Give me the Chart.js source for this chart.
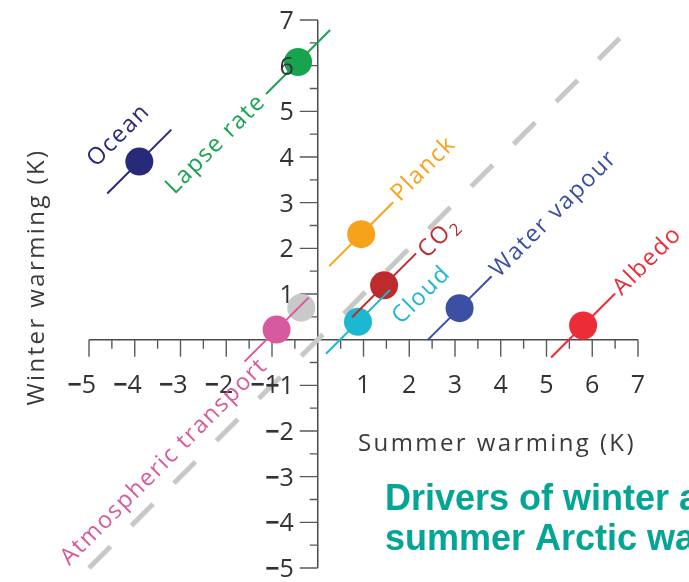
<!DOCTYPE html>
<html>
<head>
<meta charset="utf-8">
<script src="https://cdn.jsdelivr.net/npm/chart.js@4/dist/chart.umd.min.js"></script>
<style>
  html, body { margin: 0; padding: 0; background: #ffffff; }
  canvas { display: block; }
</style>
</head>
<body>
<canvas id="chart" width="689" height="582"></canvas>
<script>
// Contribution of each driver to summer and winter Arctic warming (K)
const drivers = ['Ocean', 'Lapse rate', 'Planck', 'CO₂', 'Cloud', 'Water vapour', 'Albedo', 'Atmospheric transport'];
const summerWarming = [-3.90, -0.43, 0.95, 1.45, 0.88, 3.10, 5.80, -0.90];
const winterWarming = [3.90, 6.08, 2.31, 1.19, 0.39, 0.69, 0.31, 0.22];
const driverColors = ['#272a78', '#17a44f', '#f7a21b', '#be2b2f', '#1cb8d2', '#3b50a3', '#ec2d38', '#d75aa1'];

// Unlabelled grey point behind the transport marker
const greySummer = [-0.36];
const greyWinter = [0.70];

// 1:1 reference line (summer = winter)
const oneToOneRange = [-5, 6.6];

// Axis ticks
const xTickValues = [-5, -4, -3, -2, -1, 1, 2, 3, 4, 5, 6, 7];
const xTickLabels = ['−5', '−4', '−3', '−2', '−1', '1', '2', '3', '4', '5', '6', '7'];
const yTickValues = [7, 6, 5, 4, 3, 2, 1, -1, -2, -3, -4, -5];
const yTickLabels = ['7', '6', '5', '4', '3', '2', '1', '−1', '−2', '−3', '−4', '−5'];
const xTitle = 'Summer warming (K)';
const yTitle = 'Winter warming (K)';
const titleLines = ['Drivers of winter and', 'summer Arctic warming'];

// Label placement along / across the 45° direction (pixels) and alignment
const labelAlong = [4, -51, 50, 49, 64, 49, 48, -32];
const labelAcross = [33, 0, 2, -5, -26, 0, 0, -14];
const labelAlign = ['center', 'right', 'left', 'left', 'center', 'left', 'left', 'right'];

const SEG = 0.7;       // half-length of each driver's diagonal stroke, in K
const AXIS_MIN = -5, AXIS_MAX = 7;
const TICK_FONT = '25px "Open Sans", sans-serif';
const MINUS_FONT = 'bold 25px "Open Sans", sans-serif';
const LABEL_SIZE = 23.5, SUB_SIZE = 17;

const datasets = [];

datasets.push({
  type: 'scatter',
  showLine: true,
  data: oneToOneRange.map(v => ({ x: v, y: v })),
  borderColor: '#c8c8c8',
  borderWidth: 5,
  borderDash: [30.5, 29.5],
  borderCapStyle: 'butt',
  pointRadius: 0,
  clip: false,
  order: 4
});

datasets.push({
  type: 'scatter',
  data: greySummer.map((x, i) => ({ x, y: greyWinter[i] })),
  pointRadius: 14,
  pointBackgroundColor: '#c9c9c9',
  pointBorderWidth: 0,
  clip: false,
  order: 3
});

datasets.push({
  type: 'scatter',
  data: summerWarming.map((x, i) => ({ x, y: winterWarming[i] })),
  pointRadius: 14,
  pointBackgroundColor: driverColors,
  pointBorderWidth: 0,
  clip: false,
  order: 2
});

drivers.forEach((name, i) => {
  const x = summerWarming[i], y = winterWarming[i];
  datasets.push({
    type: 'scatter',
    label: name,
    showLine: true,
    data: [{ x: x - SEG, y: y - SEG }, { x: x + SEG, y: y + SEG }],
    borderColor: driverColors[i],
    borderWidth: 2,
    pointRadius: 0,
    clip: false,
    order: 1
  });
});

function drawLabel(ctx, text, px, py, along, across, align, color) {
  const parts = [];
  for (const ch of text) {
    const sub = ch === '₂';
    const t = sub ? '2' : ch;
    if (parts.length && parts[parts.length - 1].sub === sub) parts[parts.length - 1].t += t;
    else parts.push({ t, sub });
  }
  ctx.save();
  ctx.translate(px, py);
  ctx.rotate(-Math.PI / 4);
  ctx.fillStyle = color;
  ctx.textBaseline = 'middle';
  ctx.textAlign = 'left';
  ctx.letterSpacing = '1.6px';
  let total = 0;
  parts.forEach(p => {
    ctx.font = (p.sub ? SUB_SIZE : LABEL_SIZE) + 'px "Open Sans", sans-serif';
    p.w = ctx.measureText(p.t).width;
    total += p.w;
  });
  let sx = align === 'left' ? along : align === 'right' ? along - total : along - total / 2;
  parts.forEach(p => {
    ctx.font = (p.sub ? SUB_SIZE : LABEL_SIZE) + 'px "Open Sans", sans-serif';
    ctx.fillText(p.t, sx, -across + (p.sub ? 7 : 0));
    sx += p.w;
  });
  ctx.restore();
}

// Draws a tick label whose minus sign is set heavier than the digits
function drawNumber(ctx, lab, x, y, anchor) {
  const neg = lab.startsWith('−');
  const digits = neg ? lab.slice(1) : lab;
  ctx.font = TICK_FONT;
  const dw = ctx.measureText(digits).width;
  ctx.font = MINUS_FONT;
  const mw = neg ? ctx.measureText('−').width : 0;
  let left;
  if (anchor === 'digitCenter') left = x - dw / 2 - mw;
  else left = x - dw - mw;   // right edge at x
  ctx.textAlign = 'left';
  if (neg) { ctx.font = MINUS_FONT; ctx.fillText('−', left, y); }
  ctx.font = TICK_FONT;
  ctx.fillText(digits, left + mw, y);
}

const crossAxes = {
  id: 'crossAxes',
  beforeDatasetsDraw(chart) {
    const ctx = chart.ctx;
    const xs = chart.scales.x, ys = chart.scales.y;
    const x0 = xs.getPixelForValue(0), y0 = ys.getPixelForValue(0);
    ctx.save();
    ctx.strokeStyle = '#4a4a4a';
    ctx.lineWidth = 1.5;
    ctx.beginPath();
    ctx.moveTo(xs.getPixelForValue(AXIS_MIN), y0);
    ctx.lineTo(xs.getPixelForValue(AXIS_MAX), y0);
    ctx.moveTo(x0, ys.getPixelForValue(AXIS_MIN));
    ctx.lineTo(x0, ys.getPixelForValue(AXIS_MAX));
    ctx.stroke();
    ctx.strokeStyle = '#5a5a5a';
    ctx.lineWidth = 1.4;
    ctx.beginPath();
    for (let v = AXIS_MIN; v <= AXIS_MAX + 1e-9; v += 0.5) {
      if (Math.abs(v) < 1e-9) continue;
      const major = Math.abs(v - Math.round(v)) < 1e-9;
      const px = xs.getPixelForValue(v);
      ctx.moveTo(px, y0);
      ctx.lineTo(px, y0 + (major ? 17 : 9));
      const py = ys.getPixelForValue(v);
      ctx.moveTo(x0, py);
      ctx.lineTo(x0 - (major ? 18 : 8), py);
    }
    ctx.stroke();
    ctx.restore();
  },
  afterDatasetsDraw(chart) {
    const ctx = chart.ctx;
    const xs = chart.scales.x, ys = chart.scales.y;
    const x0 = xs.getPixelForValue(0), y0 = ys.getPixelForValue(0);
    ctx.save();
    ctx.fillStyle = '#333333';
    ctx.textBaseline = 'alphabetic';

    // x tick labels: digits centred under the tick, minus sign hanging left
    xTickLabels.forEach((lab, i) => {
      drawNumber(ctx, lab, xs.getPixelForValue(xTickValues[i]), y0 + 53, 'digitCenter');
    });

    // y tick labels, right-aligned left of the ticks
    yTickLabels.forEach((lab, i) => {
      drawNumber(ctx, lab, x0 - 24, ys.getPixelForValue(yTickValues[i]) + 9, 'right');
    });

    // axis titles
    ctx.fillStyle = '#3a3a3a';
    ctx.font = '24px "Open Sans", sans-serif';
    ctx.letterSpacing = '2.4px';
    ctx.textAlign = 'center';
    ctx.fillText(xTitle, 497, y0 + 111);
    ctx.save();
    ctx.translate(44, 277);
    ctx.rotate(-Math.PI / 2);
    ctx.fillText(yTitle, 0, 0);
    ctx.restore();
    ctx.letterSpacing = '0px';

    // driver labels along the 45° strokes
    drivers.forEach((name, i) => {
      const px = xs.getPixelForValue(summerWarming[i]);
      const py = ys.getPixelForValue(winterWarming[i]);
      drawLabel(ctx, name, px, py, labelAlong[i], labelAcross[i], labelAlign[i], driverColors[i]);
    });

    // figure title
    ctx.fillStyle = '#04a595';
    ctx.font = 'bold 36px "Liberation Sans", Arial, sans-serif';
    ctx.textAlign = 'left';
    titleLines.forEach((line, i) => ctx.fillText(line, 385, 510 + i * 40));
    ctx.restore();
  }
};

new Chart(document.getElementById('chart'), {
  type: 'scatter',
  data: { datasets },
  options: {
    responsive: false,
    animation: false,
    devicePixelRatio: 1,
    layout: { padding: { left: 89, right: 51, top: 20, bottom: 12 } },
    scales: {
      x: { type: 'linear', min: AXIS_MIN, max: AXIS_MAX, display: false },
      y: { type: 'linear', min: AXIS_MIN, max: AXIS_MAX, display: false }
    },
    plugins: { legend: { display: false }, tooltip: { enabled: false } }
  },
  plugins: [crossAxes]
});
</script>
</body>
</html>
